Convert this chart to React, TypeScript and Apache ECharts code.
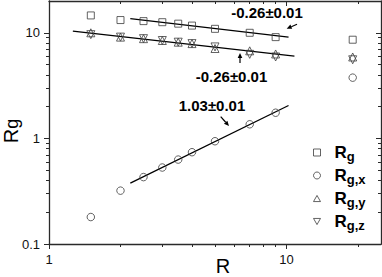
import React, { useEffect, useRef } from 'react';
import * as echarts from 'echarts';

// ---- data ----
const R = [1.5, 2, 2.5, 3, 3.5, 4, 5, 7, 9, 19];
const RG = [14.6, 13.2, 12.9, 12.6, 12.2, 11.7, 10.9, 10.0, 9.1, 8.6];
const RGX = [0.18, 0.32, 0.43, 0.53, 0.63, 0.74, 0.94, 1.36, 1.75, 3.76];
const RGY = [10.0, 9.1, 8.8, 8.45, 8.15, 7.9, 7.1, 6.75, 6.3, 5.9];
const RGZ = [9.6, 9.1, 8.8, 8.45, 8.15, 7.9, 7.35, 6.25, 5.9, 5.55];

// fitted power-law lines (end points)
const FIT_G_R = [2.2, 10.2];
const FIT_G = [13.6, 9.1];
const FIT_YZ_R = [1.26, 10.8];
const FIT_YZ = [10.35, 6.0];
const FIT_X_R = [2.2, 10.2];
const FIT_X = [0.377, 2.05];

const SERIES_NAMES = ['Rg', 'Rg,x', 'Rg,y', 'Rg,z'];
const SLOPE_LABELS = ['-0.26\u00b10.01', '-0.26\u00b10.01', '1.03\u00b10.01'];

// axes
const X_RANGE = [1, 25];
const Y_RANGE = [0.1, 20];
const X_MAJOR = [1, 10];
const X_MINOR = [2, 3, 4, 5, 6, 7, 8, 9, 20];
const Y_MAJOR = [0.1, 1, 10];
const Y_MINOR = [0.2, 0.3, 0.4, 0.5, 0.6, 0.7, 0.8, 0.9, 2, 3, 4, 5, 6, 7, 8, 9];

const FONT = 'Liberation Sans, Arial, Helvetica, sans-serif';
const AX = '#2a2a2a';
const SYM = '#3c3c3c';
const CLEAR = 'rgba(0,0,0,0)';

const lg = (v: number) => Math.log10(v);

function majorLabel(list: number[]) {
  return (v: number) => {
    const m = list.find((t) => Math.abs(lg(t) - v) < 1e-6);
    return m === undefined ? '' : String(m);
  };
}

function arrow(x1: number, y1: number, x2: number, y2: number) {
  const dx = x2 - x1;
  const dy = y2 - y1;
  const len = Math.hypot(dx, dy);
  const ux = dx / len;
  const uy = dy / len;
  const L = 5;
  const W = 2.3;
  const bx = x2 - ux * L;
  const by = y2 - uy * L;
  const nx = -uy;
  const ny = ux;
  return [
    { type: 'line', shape: { x1, y1, x2: bx, y2: by }, style: { stroke: '#000', lineWidth: 1.2 } },
    {
      type: 'polygon',
      shape: { points: [[x2, y2], [bx + nx * W, by + ny * W], [bx - nx * W, by - ny * W]] },
      style: { fill: '#000' },
    },
  ];
}

function tickAxis(position: string, vals: number[], len: number, inside: boolean, line: boolean, labels: boolean, range: number[], major: number[]) {
  return {
    type: 'value',
    min: lg(range[0]),
    max: lg(range[1]),
    position,
    axisLine: { show: line, onZero: false, lineStyle: { color: AX, width: 1.3 } },
    axisTick: { show: true, inside, length: len, customValues: vals.map(lg), lineStyle: { color: AX, width: 1 } },
    axisLabel: labels
      ? {
          show: true,
          customValues: major.map(lg),
          formatter: majorLabel(major),
          margin: 9,
          fontSize: 13,
          color: '#111',
          fontFamily: FONT,
        }
      : { show: false },
    splitLine: { show: false },
  };
}

export default function App() {
  const ref = useRef<HTMLDivElement>(null);

  useEffect(() => {
    document.body.style.margin = '0';
    if (!ref.current) return;
    const chart = echarts.init(ref.current, null, { renderer: 'svg' });

    const scatterStyle = { color: CLEAR, borderColor: SYM, borderWidth: 1 };
    const pts = (ys: number[]) => R.map((r, i) => [r, ys[i]]);
    const fit = (xs: number[], ys: number[]) => xs.map((r, i) => [r, ys[i]]);

    const fitLine = (xs: number[], ys: number[]) => ({
      type: 'line',
      data: fit(xs, ys),
      symbol: 'none',
      silent: true,
      lineStyle: { color: '#000', width: 1.3 },
      z: 1,
    });

    const option: any = {
      animation: false,
      backgroundColor: '#fff',
      grid: { left: 49, right: 1, top: 1, bottom: 33, containLabel: false, outerBoundsMode: 'none' },
      xAxis: [
        { type: 'log', logBase: 10, min: X_RANGE[0], max: X_RANGE[1], show: false },
        tickAxis('bottom', X_MAJOR, 5, false, true, true, X_RANGE, X_MAJOR),
        tickAxis('bottom', X_MINOR, 3, false, false, false, X_RANGE, X_MAJOR),
        tickAxis('top', X_MAJOR, 5, true, true, false, X_RANGE, X_MAJOR),
        tickAxis('top', X_MINOR, 3, true, false, false, X_RANGE, X_MAJOR),
      ],
      yAxis: [
        { type: 'log', logBase: 10, min: Y_RANGE[0], max: Y_RANGE[1], show: false },
        tickAxis('left', Y_MAJOR, 5, false, true, true, Y_RANGE, Y_MAJOR),
        tickAxis('left', Y_MINOR, 3, false, false, false, Y_RANGE, Y_MAJOR),
        tickAxis('right', Y_MAJOR, 5, true, true, false, Y_RANGE, Y_MAJOR),
        tickAxis('right', Y_MINOR, 3, true, false, false, Y_RANGE, Y_MAJOR),
      ],
      legend: {
        orient: 'vertical',
        left: 313,
        top: 144,
        padding: 0,
        itemWidth: 7,
        itemHeight: 7,
        itemGap: 4.5,
        selectedMode: false,
        itemStyle: { color: CLEAR, borderColor: SYM, borderWidth: 1 },
        data: [
          { name: SERIES_NAMES[0], icon: 'rect' },
          { name: SERIES_NAMES[1], icon: 'circle' },
          { name: SERIES_NAMES[2], icon: 'path://M4,0L8,7L0,7Z' },
          { name: SERIES_NAMES[3], icon: 'path://M0,0L8,0L4,7Z' },
        ],
        formatter: (n: string) => `{r|R}{s|${n.slice(1)}}`,
        textStyle: {
          rich: {
            r: { fontSize: 17, fontWeight: 'bold', lineHeight: 20, padding: [0, 0, 0, 9], fontFamily: FONT, color: '#000' },
            s: { fontSize: 13, fontWeight: 'bold', lineHeight: 13, verticalAlign: 'bottom', fontFamily: FONT, color: '#000' },
          },
        },
      },
      series: [
        fitLine(FIT_G_R, FIT_G),
        fitLine(FIT_YZ_R, FIT_YZ),
        fitLine(FIT_X_R, FIT_X),
        { name: SERIES_NAMES[0], type: 'scatter', symbol: 'rect', symbolSize: 7, data: pts(RG), itemStyle: scatterStyle, z: 3 },
        { name: SERIES_NAMES[1], type: 'scatter', symbol: 'circle', symbolSize: 7.5, data: pts(RGX), itemStyle: scatterStyle, z: 3 },
        { name: SERIES_NAMES[2], type: 'scatter', symbol: 'triangle', symbolSize: 8, data: pts(RGY), itemStyle: scatterStyle, z: 3 },
        { name: SERIES_NAMES[3], type: 'scatter', symbol: 'triangle', symbolRotate: 180, symbolSize: 8, data: pts(RGZ), itemStyle: scatterStyle, z: 3 },
      ],
      graphic: {
        elements: [
          { type: 'text', x: 267, y: 12.5, style: { text: SLOPE_LABELS[0], fontSize: 15, fontWeight: 'bold', fontFamily: FONT, fill: '#000', align: 'center', verticalAlign: 'middle' } },
          ...arrow(297, 24.3, 286.7, 28.7),
          { type: 'text', x: 231.5, y: 76.2, style: { text: SLOPE_LABELS[1], fontSize: 15, fontWeight: 'bold', fontFamily: FONT, fill: '#000', align: 'center', verticalAlign: 'middle' } },
          ...arrow(240, 63, 240, 53),
          { type: 'text', x: 212, y: 105.3, style: { text: SLOPE_LABELS[2], fontSize: 15, fontWeight: 'bold', fontFamily: FONT, fill: '#000', align: 'center', verticalAlign: 'middle' } },
          ...arrow(220.7, 116.7, 229, 126),
          { type: 'text', x: 223, y: 266, style: { text: 'R', fontSize: 20, lineHeight: 20, fontFamily: FONT, fill: '#000', align: 'center', verticalAlign: 'middle' } },
          {
            type: 'text',
            x: 10.5,
            y: 131,
            rotation: Math.PI / 2,
            style: {
              text: '{r|R}{s|g}',
              align: 'center',
              verticalAlign: 'middle',
              fill: '#000',
              rich: {
                r: { fontSize: 20, lineHeight: 21, fontFamily: FONT, fill: '#000' },
                s: { fontSize: 18, lineHeight: 18, verticalAlign: 'bottom', fontFamily: FONT, fill: '#000' },
              },
            },
          },
        ],
      },
    };

    chart.setOption(option);
    return () => chart.dispose();
  }, []);

  return <div ref={ref} style={{ width: 382, height: 277 }} />;
}
